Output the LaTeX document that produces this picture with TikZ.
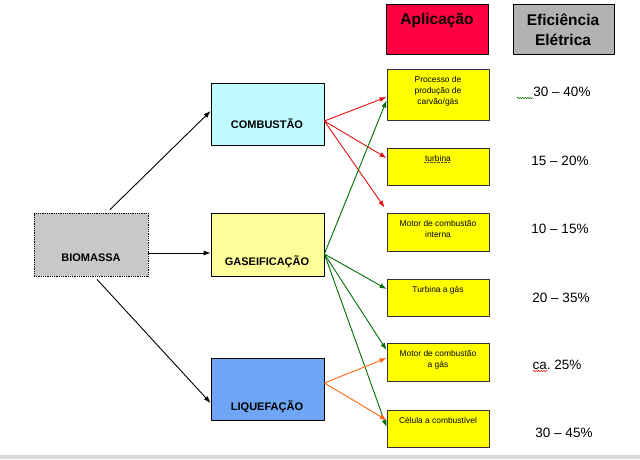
\documentclass[tikz,border=0pt]{standalone}
\usepackage{fontspec}
\setmainfont{Liberation Sans}
\usetikzlibrary{arrows.meta,decorations.pathmorphing}
\definecolor{bioGray}{RGB}{200,200,200}
\definecolor{combCyan}{RGB}{192,252,255}
\definecolor{gasYellow}{RGB}{255,255,153}
\definecolor{liqBlue}{RGB}{110,165,245}
\definecolor{appYellow}{RGB}{255,255,0}
\definecolor{headRed}{RGB}{255,0,64}
\definecolor{headGray}{RGB}{178,178,178}
\definecolor{arRed}{RGB}{228,16,16}
\definecolor{arGreen}{RGB}{0,110,0}
\definecolor{arOrange}{RGB}{255,100,16}
\begin{document}
\begin{tikzpicture}[x=1pt,y=-1pt,line join=round,>={Latex[length=7pt,width=5pt]}]
			\tikzset{box/.style={draw,line width=0.8pt,inner sep=0pt,minimum width=113pt,minimum height=62pt},
				appbox/.style={draw=black!80,line width=0.9pt,fill=appYellow,inner sep=0pt,minimum width=102pt},
				lbl/.style={font=\bfseries\fontsize{11}{13}\selectfont,anchor=base,inner sep=0pt},
				hdtxt/.style={font=\bfseries\fontsize{15.5}{20}\selectfont,align=center,anchor=north,inner sep=0pt},
				apptxt/.style={font=\fontsize{8.4}{11}\selectfont,align=center,anchor=north,inner sep=0pt},
				efftxt/.style={font=\fontsize{13.5}{16}\selectfont,anchor=base,inner sep=0pt},
				con/.style={->,line width=0.9pt},
				squig/.style={line width=0.5pt,decorate,decoration={snake,amplitude=0.7pt,segment length=2.5pt}}}
			\useasboundingbox (0,0) rectangle (640,459);
			\fill[gray!30] (0,455) rectangle (640,459);
			\node[box,densely dotted,fill=bioGray,minimum width=114pt,minimum height=63pt] (bio) at (91,244.5) {};
			\node[box,fill=combCyan] (comb) at (267.5,114) {};
			\node[box,fill=gasYellow,minimum height=63pt] (gas) at (267.5,244.5) {};
			\node[box,fill=liqBlue] (liq) at (267.5,389) {};
			\node[lbl] (biotxt) at (91,261) {BIOMASSA};
			\node[lbl] (combtxt) at (267,128) {COMBUSTÃO};
			\node[lbl] (gastxt) at (267,265) {GASEIFICAÇÃO};
			\node[lbl] (liqtxt) at (267,410) {LIQUEFAÇÃO};
			\node[box,fill=headRed,minimum width=102pt,minimum height=50pt] (aplic) at (437,29) {};
			\node[box,fill=headGray,minimum width=101pt,minimum height=50pt] (efic) at (563.5,29) {};
			\node[hdtxt] (aplictxt) at (437,13.5) {Aplicação};
			\node[hdtxt] (efictxt) at (563,14) {Eficiência\\Elétrica};
			\foreach \i/\y/\h in {1/94.5/51,2/166.5/37,3/232/38,4/297.5/37,5/362.5/38,6/428.5/37}
			\node[appbox,minimum height=\h pt] (app\i) at (438,\y) {};
			\foreach \i/\t in {1/{Processo de\\produção de\\carvão/gás},2/{turbina},3/{Motor de combustão\\interna},4/{Turbina a gás},5/{Motor de combustão\\a gás},6/{Célula a combustível}}
			\node[apptxt] (apptxt\i) at ([yshift=-7.5pt]app\i.north) {\t};
			\foreach \i/\x/\y/\t in {1/562/96/{30 \textendash\ 40\%},2/560/165/{15 \textendash\ 20\%},3/560/233/{10 \textendash\ 15\%},4/561/302/{20 \textendash\ 35\%},5/557/369/{ca.\ 25\%},6/564/437/{30 \textendash\ 45\%}}
			\node[efftxt] (eff\i) at (\x,\y) {\t};
			\draw[squig,arGreen] (517,98)--(533,98);
			\draw[squig,arRed] (533,371)--(548,371);
			\draw[line width=0.4pt,densely dotted,black!70] (424,162.5)--(450,162.5);
			\draw[con] ([shift={(19pt,3pt)}]bio.north) -- ([yshift=3pt]comb.west);
			\draw[con] ([yshift=-8.5pt]bio.east) -- ([yshift=-8.5pt]gas.west);
			\draw[con] ([shift={(6pt,-3pt)}]bio.south) -- ([yshift=-14pt]liq.west);
			\foreach \n/\s in {app1/-2.5,app2/8.5}
			\draw[con,arRed] ([yshift=-7pt]comb.east) -- ([yshift=\s pt]\n.west);
			\draw[con,arRed] ([yshift=-7pt]comb.east) -- ([shift={(-2pt,5pt)}]app3.north west);
			\foreach \n/\s in {app1/-6,app4/8.5,app5/12.5,app6/1.5}
			\draw[con,arGreen] ([yshift=-9.5pt]gas.east) -- ([yshift=\s pt]\n.west);
			\foreach \n/\s in {app5/4.5,app6/8.5}
			\draw[con,arOrange] ([yshift=6pt]liq.east) -- ([yshift=\s pt]\n.west);
		\end{tikzpicture}
\end{document}
